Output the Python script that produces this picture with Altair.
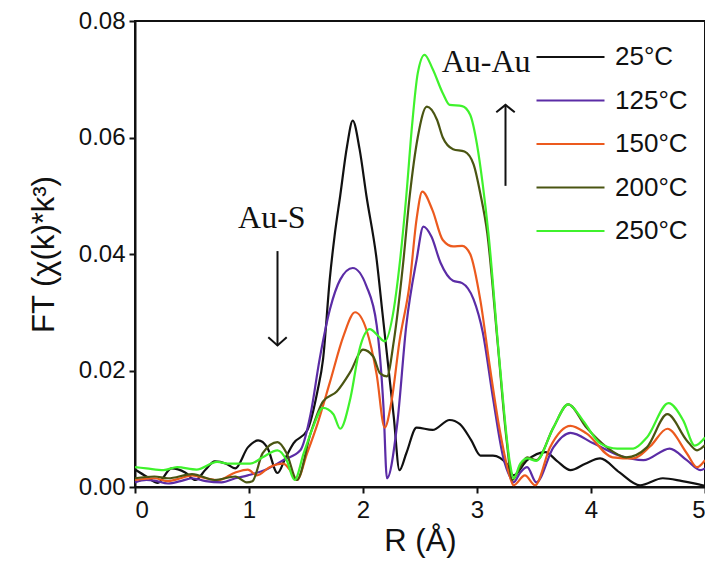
import altair as alt
import pandas as pd

series_names = ["25°C", "125°C", "150°C", "200°C", "250°C"]
series_colors = ["#111111", "#5b2ca6", "#ec5a1e", "#4a5512", "#3ff22c"]
series_widths = [2.2, 2.2, 2.2, 2.2, 4]

r_25 = [0.00, 0.10, 0.20, 0.32, 0.44, 0.53, 0.62, 0.70, 0.80, 0.88, 0.99, 1.08, 1.16, 1.25, 1.32,
        1.39, 1.51, 1.60, 1.65, 1.71, 1.75, 1.80, 1.86, 1.91, 1.97, 2.03, 2.12, 2.17, 2.22, 2.27,
        2.32, 2.38, 2.47, 2.61, 2.76, 2.85, 2.95, 3.03, 3.14, 3.26, 3.32, 3.44, 3.60, 3.70, 3.82,
        3.95, 4.08, 4.25, 4.43, 4.63, 4.80, 5.00]
y_25 = [0.0030, 0.0018, 0.0007, 0.0032, 0.0025, 0.0012, 0.0030, 0.0044, 0.0040, 0.0032, 0.0068,
        0.0080, 0.0068, 0.0024, 0.0050, 0.0075, 0.0097, 0.0164, 0.0220, 0.0360, 0.0430, 0.0500,
        0.0585, 0.0629, 0.0580, 0.0500, 0.0390, 0.0300, 0.0210, 0.0120, 0.0029, 0.0058, 0.0102,
        0.0098, 0.0115, 0.0108, 0.0080, 0.0054, 0.0054, 0.0040, 0.0020, 0.0046, 0.0060, 0.0045,
        0.0029, 0.0040, 0.0049, 0.0025, 0.0003, 0.0015, 0.0010, 0.0002]

r_125 = [0.00, 0.10, 0.17, 0.29, 0.40, 0.50, 0.62, 0.76, 0.88, 0.99, 1.14, 1.30, 1.45, 1.54, 1.62,
         1.71, 1.80, 1.91, 2.03, 2.12, 2.18, 2.21, 2.30, 2.38, 2.47, 2.53, 2.60, 2.68, 2.79, 2.87,
         2.97, 3.05, 3.14, 3.23, 3.29, 3.32, 3.38, 3.44, 3.52, 3.67, 3.82, 4.02, 4.25, 4.46, 4.69,
         4.84, 4.96, 5.00]
y_125 = [0.0008, 0.0012, 0.0011, 0.0006, 0.0010, 0.0015, 0.0010, 0.0008, 0.0015, 0.0020, 0.0029,
         0.0046, 0.0063, 0.0125, 0.0220, 0.0305, 0.0356, 0.0376, 0.0345, 0.0278, 0.0136, 0.0015,
         0.0108, 0.0278, 0.0390, 0.0447, 0.0430, 0.0385, 0.0354, 0.0350, 0.0322, 0.0266, 0.0153,
         0.0051, 0.0017, 0.0008, 0.0025, 0.0034, 0.0008, 0.0068, 0.0093, 0.0075, 0.0054, 0.0046,
         0.0066, 0.0046, 0.0029, 0.0032]

r_150 = [0.00, 0.17, 0.29, 0.40, 0.50, 0.62, 0.73, 0.88, 0.99, 1.07, 1.18, 1.30, 1.36, 1.42, 1.51,
         1.60, 1.71, 1.83, 1.93, 2.03, 2.12, 2.19, 2.25, 2.32, 2.41, 2.47, 2.52, 2.61, 2.70, 2.79,
         2.87, 2.94, 3.03, 3.11, 3.20, 3.29, 3.32, 3.42, 3.51, 3.64, 3.82, 3.96, 4.19, 4.37, 4.52,
         4.67, 4.84, 4.93, 5.00]
y_150 = [0.0012, 0.0015, 0.0010, 0.0015, 0.0020, 0.0015, 0.0012, 0.0025, 0.0030, 0.0020, 0.0034,
         0.0040, 0.0029, 0.0012, 0.0058, 0.0108, 0.0180, 0.0260, 0.0300, 0.0270, 0.0193, 0.0102,
         0.0147, 0.0250, 0.0350, 0.0460, 0.0507, 0.0475, 0.0424, 0.0413, 0.0414, 0.0400, 0.0320,
         0.0210, 0.0097, 0.0017, 0.0003, 0.0020, 0.0003, 0.0068, 0.0105, 0.0092, 0.0051, 0.0049,
         0.0070, 0.0100, 0.0058, 0.0034, 0.0046]

r_200 = [0.00, 0.17, 0.29, 0.50, 0.70, 0.88, 0.98, 1.03, 1.12, 1.25, 1.33, 1.42, 1.54, 1.65, 1.77,
         1.89, 2.00, 2.09, 2.15, 2.21, 2.27, 2.35, 2.41, 2.48, 2.56, 2.65, 2.70, 2.79, 2.89, 2.97,
         3.03, 3.09, 3.18, 3.26, 3.31, 3.38, 3.44, 3.52, 3.67, 3.80, 3.96, 4.14, 4.31, 4.49, 4.67,
         4.84, 4.93, 5.00]
y_200 = [0.0015, 0.0018, 0.0015, 0.0022, 0.0012, 0.0018, 0.0008, 0.0010, 0.0058, 0.0077, 0.0058,
         0.0012, 0.0092, 0.0147, 0.0164, 0.0198, 0.0236, 0.0224, 0.0195, 0.0190, 0.0250, 0.0380,
         0.0500, 0.0600, 0.0653, 0.0630, 0.0600, 0.0580, 0.0576, 0.0554, 0.0503, 0.0436, 0.0250,
         0.0080, 0.0012, 0.0035, 0.0051, 0.0046, 0.0102, 0.0142, 0.0102, 0.0068, 0.0051, 0.0068,
         0.0125, 0.0080, 0.0063, 0.0072]

r_250 = [0.00, 0.10, 0.25, 0.37, 0.54, 0.72, 0.83, 1.01, 1.12, 1.25, 1.33, 1.40, 1.48, 1.56, 1.65,
         1.74, 1.80, 1.89, 1.97, 2.06, 2.13, 2.19, 2.27, 2.32, 2.38, 2.43, 2.48, 2.54, 2.61, 2.70,
         2.76, 2.87, 2.94, 3.00, 3.05, 3.10, 3.20, 3.29, 3.32, 3.38, 3.44, 3.52, 3.67, 3.80, 3.93,
         4.08, 4.23, 4.37, 4.49, 4.68, 4.81, 4.91, 5.00]
y_250 = [0.0034, 0.0032, 0.0029, 0.0034, 0.0030, 0.0043, 0.0040, 0.0040, 0.0051, 0.0063, 0.0046,
         0.0012, 0.0058, 0.0102, 0.0136, 0.0125, 0.0100, 0.0153, 0.0237, 0.0271, 0.0260, 0.0250,
         0.0305, 0.0380, 0.0500, 0.0620, 0.0710, 0.0742, 0.0718, 0.0676, 0.0656, 0.0654, 0.0639,
         0.0588, 0.0520, 0.0436, 0.0210, 0.0040, 0.0015, 0.0040, 0.0049, 0.0045, 0.0102, 0.0142,
         0.0114, 0.0075, 0.0066, 0.0066, 0.0085, 0.0144, 0.0114, 0.0071, 0.0085]

x_ticks = [0, 1, 2, 3, 4, 5]
y_ticks = [0.00, 0.02, 0.04, 0.06, 0.08]

# annotations (data coordinates)
label_text = ["Au-Au", "Au-S"]
label_r = [3.08, 1.20]
label_y = [0.0729, 0.0461]
arrow_r = [1.25, 3.25]
arrow_start = [0.0405, 0.0517]
arrow_end = [0.0243, 0.0656]
arrow_shape = ["M-1,-0.9L0,0L1,-0.9", "M-1,0.8L0,0L1,0.8"]

rs = [r_25, r_125, r_150, r_200, r_250]
ys = [y_25, y_125, y_150, y_200, y_250]
rows = []
for name, rr, yy in zip(series_names, rs, ys):
    for a, b in zip(rr, yy):
        rows.append({"R": a, "FT": b, "series": name})
df = pd.DataFrame(rows)

sans = "Arial, Liberation Sans, sans-serif"
serif = "Times New Roman, Liberation Serif, serif"

xscale = alt.Scale(domain=[0, 5], nice=False)
yscale = alt.Scale(domain=[0, 0.08], nice=False)

leg = alt.Legend(
    orient="none", legendX=400, legendY=22, title=None,
    symbolType="stroke", symbolSize=4624, clipHeight=28, rowPadding=15.5,
    labelFontSize=26, labelFont=sans, labelColor="#111111", labelOffset=9,
    padding=0, offset=0,
    labelExpr="datum.label == '25°C' ? '\u2007' + datum.label : datum.label",
)

lines = alt.Chart(df).mark_line(interpolate="monotone").encode(
    x=alt.X("R:Q", scale=xscale,
            axis=alt.Axis(values=x_ticks, title="R (Å)", format="d")),
    y=alt.Y("FT:Q", scale=yscale,
            axis=alt.Axis(values=y_ticks, title="FT (χ(k)*k³)", format=".2f")),
    color=alt.Color("series:N", scale=alt.Scale(domain=series_names, range=series_colors), legend=leg),
    strokeWidth=alt.StrokeWidth("series:N", scale=alt.Scale(domain=series_names, range=series_widths), legend=leg),
    order=alt.Order("R:Q"),
)

ann_df = pd.DataFrame({"text": label_text, "R": label_r, "FT": label_y})
texts = alt.Chart(ann_df).mark_text(font=serif, fontSize=32, color="#111111", baseline="middle").encode(
    x=alt.X("R:Q", scale=xscale), y=alt.Y("FT:Q", scale=yscale), text="text:N"
)

arr_df = pd.DataFrame({"R": arrow_r, "y1": arrow_start, "y2": arrow_end, "shape": arrow_shape})
shafts = alt.Chart(arr_df).mark_rule(color="#111111", strokeWidth=2).encode(
    x=alt.X("R:Q", scale=xscale), y=alt.Y("y1:Q", scale=yscale), y2="y2:Q"
)
heads = alt.Chart(arr_df).mark_point(filled=False, color="#111111", strokeWidth=2, size=340, opacity=1).encode(
    x=alt.X("R:Q", scale=xscale), y=alt.Y("y2:Q", scale=yscale),
    shape=alt.Shape("shape:N", scale=None),
)

chart = alt.layer(lines, shafts, heads, texts).properties(
    width=570, height=466,
    autosize=alt.AutoSizeParams(type="none"),
    padding={"left": 127, "top": 13, "right": 0, "bottom": 95},
).configure_view(
    stroke="#111111", strokeWidth=2
).configure_axis(
    grid=False, domainColor="#111111", domainWidth=2, tickColor="#111111", tickWidth=2,
    tickSize=6, labelFont=sans, labelFontSize=24, labelColor="#111111", labelPadding=4,
    titleFont=sans, titleFontSize=31, titleFontWeight="normal", titleColor="#111111",
).configure_axisY(titlePadding=18).configure_axisX(titlePadding=4, labelPadding=5)

chart.save("out.html", embed_options={"renderer": "svg", "actions": False})
